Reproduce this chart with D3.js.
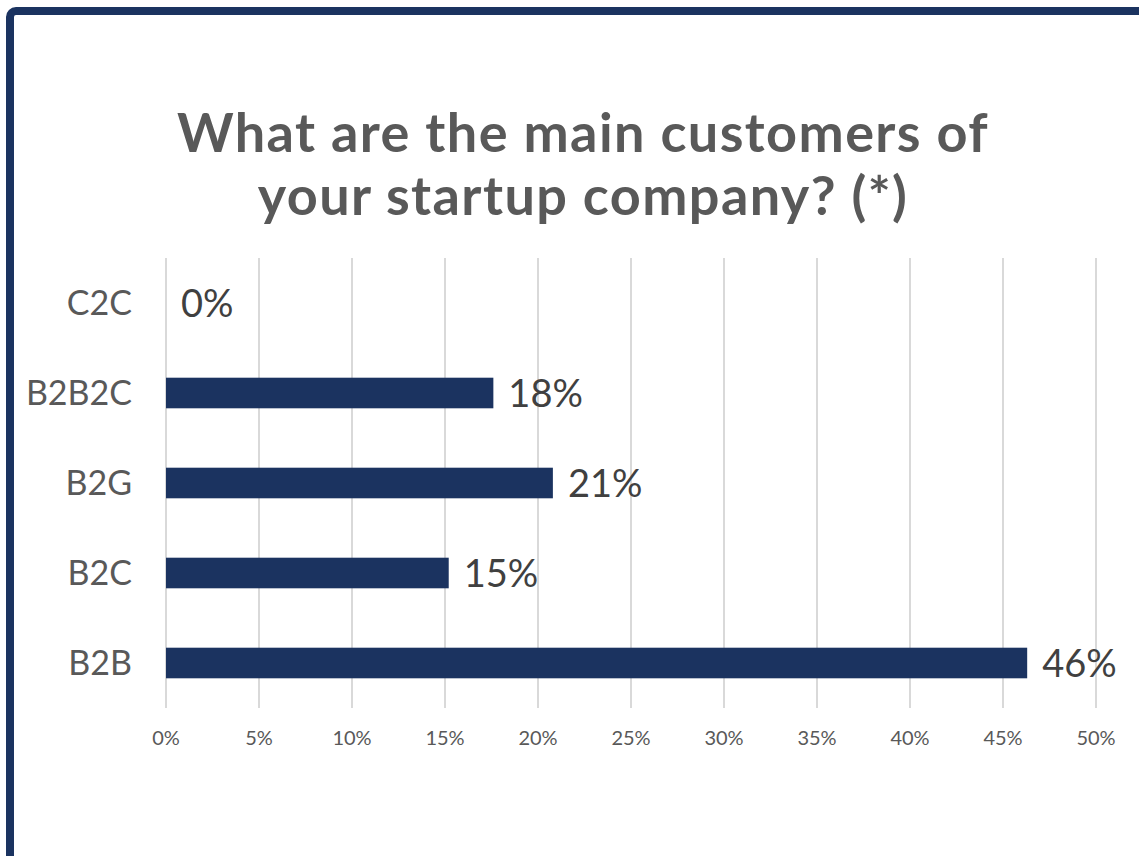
<!DOCTYPE html>
<html lang="en">
<head>
  <meta charset="UTF-8">
  <title>Main customers of startups</title>
  <script src="https://d3js.org/d3.v7.min.js"></script>
  <style>
    body { margin: 0; background: #ffffff; }
    svg { display: block; }
  </style>
</head>
<body>
  <script>
    const categories = ["C2C", "B2B2C", "B2G", "B2C", "B2B"];
    const shares = [0, 17.6, 20.8, 15.2, 46.3];
    const tickValues = [0, 5, 10, 15, 20, 25, 30, 35, 40, 45, 50];
    const titleLines = ["What are the main customers of", "your startup company? (*)"];

    const width = 1139, height = 856;
    const font = "Lato, 'Open Sans', sans-serif";
    const navy = "#1b3360";

    const svg = d3.select("body").append("svg")
        .attr("width", width)
        .attr("height", height)
        .style("font-family", font);

    // frame, cut off at the right and bottom like the slide
    svg.append("rect")
        .attr("x", 10).attr("y", 11)
        .attr("width", width + 40).attr("height", height + 40)
        .attr("rx", 6)
        .attr("fill", "none")
        .attr("stroke", navy)
        .attr("stroke-width", 8);

    svg.append("g")
      .selectAll("text")
      .data(titleLines)
      .join("text")
        .attr("x", 583)
        .attr("y", (d, i) => 152 + i * 63)
        .attr("text-anchor", "middle")
        .attr("fill", "#595959")
        .attr("font-weight", "bold")
        .attr("font-size", 54)
        .attr("letter-spacing", 1.4)
        .text(d => d);

    const x = d3.scaleLinear().domain([0, 50]).range([166, 1096]);
    const y = d3.scaleBand().domain(categories).range([258, 708])
        .paddingInner(0.66).paddingOuter(0.33);

    // gridlines
    svg.append("g")
      .selectAll("line")
      .data(tickValues)
      .join("line")
        .attr("x1", d => x(d)).attr("x2", d => x(d))
        .attr("y1", 258).attr("y2", 708)
        .attr("stroke", "#d9d9d9")
        .attr("stroke-width", 2);

    // tick labels
    svg.append("g")
      .selectAll("text")
      .data(tickValues)
      .join("text")
        .attr("x", d => x(d))
        .attr("y", 745)
        .attr("text-anchor", "middle")
        .attr("fill", "#595959")
        .attr("font-size", 20)
        .text(d => d + "%");

    // bars
    svg.append("g")
      .selectAll("rect")
      .data(categories)
      .join("rect")
        .attr("x", x(0))
        .attr("y", d => y(d))
        .attr("width", (d, i) => x(shares[i]) - x(0))
        .attr("height", y.bandwidth())
        .attr("fill", navy);

    // category labels
    svg.append("g")
      .selectAll("text")
      .data(categories)
      .join("text")
        .attr("x", 132)
        .attr("y", d => y(d) + y.bandwidth() / 2)
        .attr("dy", "0.36em")
        .attr("text-anchor", "end")
        .attr("fill", "#595959")
        .attr("font-size", 34)
        .text(d => d);

    // value labels
    svg.append("g")
      .selectAll("text")
      .data(categories)
      .join("text")
        .attr("x", (d, i) => x(shares[i]) + 15)
        .attr("y", d => y(d) + y.bandwidth() / 2)
        .attr("dy", "0.37em")
        .attr("fill", "#404040")
        .attr("font-size", 38)
        .text((d, i) => Math.round(shares[i]) + "%");
  </script>
</body>
</html>
